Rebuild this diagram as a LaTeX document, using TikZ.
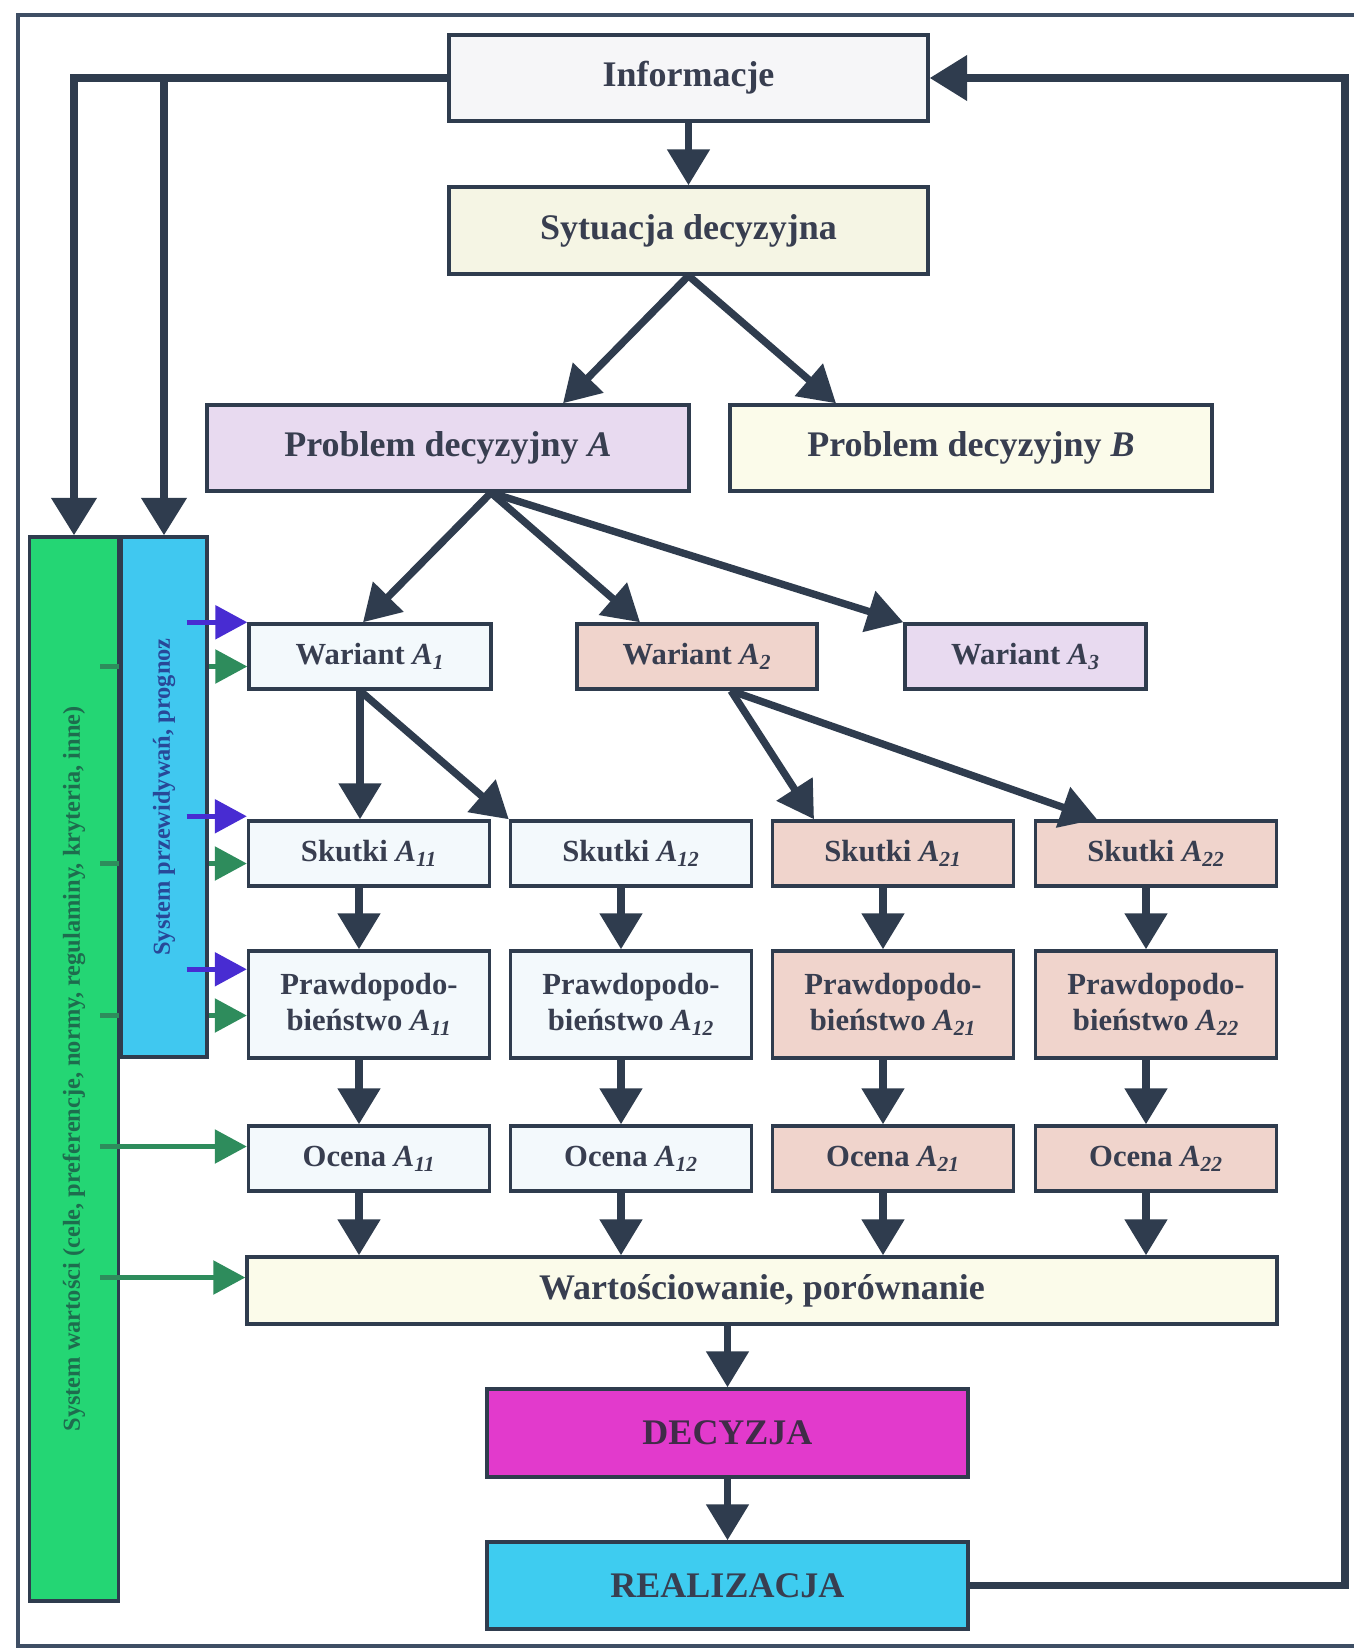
\documentclass[tikz,border=0pt]{standalone}
\usepackage{fontspec}
\setmainfont{Liberation Serif}
\usetikzlibrary{arrows.meta,calc}

\definecolor{ink}{RGB}{47,60,78}
\definecolor{frameC}{RGB}{62,78,100}
\definecolor{txt}{RGB}{56,62,80}
\definecolor{cInfo}{RGB}{246,246,248}
\definecolor{cSit}{RGB}{245,245,228}
\definecolor{cLav}{RGB}{232,218,240}
\definecolor{cCream}{RGB}{251,251,234}
\definecolor{cPale}{RGB}{243,249,252}
\definecolor{cSalm}{RGB}{240,212,204}
\definecolor{cMag}{RGB}{226,58,204}
\definecolor{cCyan}{RGB}{62,204,240}
\definecolor{cGreen}{RGB}{36,214,116}
\definecolor{cBlue}{RGB}{64,200,240}
\definecolor{gArr}{RGB}{46,140,92}
\definecolor{bArr}{RGB}{72,44,210}
\definecolor{gTxt}{RGB}{30,108,78}
\definecolor{bTxt}{RGB}{40,72,152}
\definecolor{dTxt}{RGB}{64,44,72}

\newcommand\Asub[1]{\textit{A}\textsubscript{\textit{#1}}}

\begin{document}
\begin{tikzpicture}[x=0.75pt,y=-0.75pt,
  box/.style={draw=ink, line width=2.6pt, inner sep=0pt, align=center,
    text=txt, font=\bfseries\fontsize{23}{27.5}\selectfont},
  big/.style={font=\bfseries\fontsize{27}{32}\selectfont},
  sz/.style 2 args={minimum width=#1*0.75pt, minimum height=#2*0.75pt},
  column/.style={draw=ink, line width=2.6pt, inner sep=0pt},
  coltext/.style={rotate=90, font=\bfseries\fontsize{18.3}{22}\selectfont},
  flow/.style={draw=ink, line width=5.5pt, -{Triangle[width=31pt,length=27pt]}},
  loop/.style={draw=ink, line width=5.5pt, -{Triangle[width=33pt,length=28pt]}},
  gside/.style={draw=gArr, line width=3.4pt, -{Triangle[width=25pt,length=24pt]}},
  bside/.style={draw=bArr, line width=3.4pt, -{Triangle[width=25pt,length=24pt]}}
]
\useasboundingbox (0,0) rectangle (1354,1650);
\fill[white] (0,0) rectangle (1354,1650);

% outer frame
\draw[frameC, line width=3pt] (1354,15) -- (18,15) -- (18,1646) -- (1354,1646);

% main boxes
\node[box,big,sz={479}{86},fill=cInfo] (info) at (688.5,78) {Informacje};
\node[box,big,sz={479}{87},fill=cSit] (sit) at (688.5,230.5) {Sytuacja decyzyjna};
\node[box,big,sz={482}{86},fill=cLav] (pA) at (448,448) {Problem decyzyjny \textit{A}};
\node[box,big,sz={482}{86},fill=cCream] (pB) at (971,448) {Problem decyzyjny \textit{B}};

\node[box,sz={242}{65},fill=cPale] (wa1) at (370,656.5) {Wariant \Asub{1}};
\node[box,sz={240}{65},fill=cSalm] (wa2) at (697,656.5) {Wariant \Asub{2}};
\node[box,sz={241}{65},fill=cLav] (wa3) at (1025.5,656.5) {Wariant \Asub{3}};

% consequences, probabilities and assessments
\foreach \id/\cx/\col in {11/369/cPale,12/631/cPale,21/893/cSalm,22/1156/cSalm}{
  \node[box,sz={241}{65},fill=\col] (sk\id) at (\cx,853.5) {Skutki \Asub{\id}};
  \node[box,sz={241}{107},fill=\col] (pr\id) at (\cx,1004.5) {Prawdopodo-\\bieństwo \Asub{\id}};
  \node[box,sz={241}{65},fill=\col] (oc\id) at (\cx,1158.5) {Ocena \Asub{\id}};
}

\node[box,big,sz={1030}{67},fill=cCream] (wart) at (762,1290.5) {Wartościowanie, porównanie};
\node[box,big,sz={481}{88},fill=cMag,text=dTxt] (dec) at (727.5,1433) {DECYZJA};
\node[box,big,sz={481}{87},fill=cCyan] (real) at (727.5,1585.5) {REALIZACJA};

% value system column
\node[column,fill=cGreen,sz={89}{1064}] (gcol) at (74,1069) {};
\node[coltext,text=gTxt] (gtext) at (gcol.center)
  {System wartości (cele, preferencje, normy, regulaminy, kryteria, inne)};

\draw[gside] ($(gcol.east |- wa1.west)+(-20,10)$) -- ($(wa1.west)+(0,10)$);
\draw[gside] ($(gcol.east |- sk11.west)+(-20,10)$) -- ($(sk11.west)+(0,10)$);
\draw[gside] ($(gcol.east |- pr11.west)+(-20,11)$) -- ($(pr11.west)+(0,11)$);
\draw[gside] ($(gcol.east |- oc11.west)+(-20,-12)$) -- ($(oc11.west)+(0,-12)$);
\draw[gside] ($(gcol.east |- wart.west)+(-20,-13)$) -- ($(wart.west)+(0,-13)$);

% forecasting system column
\node[column,fill=cBlue,sz={86}{520}] (bcol) at (164,797) {};
\node[coltext,text=bTxt] (btext) at (bcol.center) {System przewidywań, prognoz};

\draw[bside] ($(bcol.east |- wa1.north west)+(-22,0)$) -- (wa1.north west);
\draw[bside] ($(bcol.east |- sk11.north west)+(-22,-3)$) -- ($(sk11.north west)+(0,-3)$);
\draw[bside] ($(bcol.east |- pr11.north west)+(-22,20)$) -- ($(pr11.north west)+(0,20)$);

% decision tree
\draw[flow] (info) -- (sit);
\draw[flow] (sit.south) -- ($(pA.north)+(115,0)$);
\draw[flow] (sit.south) -- ($(pB.north)+(-135,0)$);
\coordinate (pAo) at ($(pA.south)+(43,0)$);
\draw[flow] (pAo) -- ($(wa1.north)+(-7,0)$);
\draw[flow] (pAo) -- ($(wa2.north)+(-57,0)$);
\draw[flow] (pAo) -- (wa3.north west);
\coordinate (wa1o) at ($(wa1.south)+(-10,0)$);
\draw[flow] (wa1o) -- ($(sk11.north)+(-9,0)$);
\draw[flow] (wa1o) -- (sk12.north west);
\coordinate (wa2o) at ($(wa2.south)+(34,0)$);
\draw[flow] (wa2o) -- ($(sk21.north)+(-79,0)$);
\draw[flow] (wa2o) -- ($(sk22.north)+(-59,0)$);

\foreach \id in {11,12,21,22}{
  \draw[flow] ($(sk\id.south)+(-10,0)$) -- ($(pr\id.north)+(-10,0)$);
  \draw[flow] ($(pr\id.south)+(-10,0)$) -- ($(oc\id.north)+(-10,0)$);
  \coordinate (o\id) at ($(oc\id.south)+(-10,0)$);
  \draw[flow] (o\id) -- (o\id |- wart.north);
}

\draw[flow] (wart.south -| dec.north) -- (dec.north);
\draw[flow] (dec) -- (real);

% information feeds both systems
\draw[loop] (info.west) -| (gcol.north);
\draw[loop] (info.west) -| (bcol.north);

% feedback from realization to information
\coordinate (fbc) at (1345,78);
\draw[loop] (real.east) -| (fbc) -- (info.east);
\end{tikzpicture}
\end{document}
